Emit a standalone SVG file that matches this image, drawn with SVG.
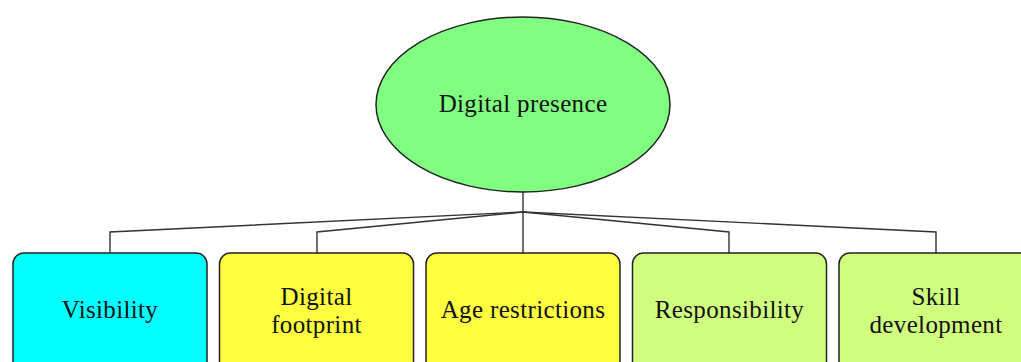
<svg xmlns="http://www.w3.org/2000/svg" width="1021" height="362" viewBox="0 0 1021 362">
<style>
.box{stroke:#222;stroke-width:1.5}
.t{font-family:"Liberation Serif",serif;font-size:25px;letter-spacing:0.35px;fill:#111;text-anchor:middle}
.c{fill:none;stroke:#333;stroke-width:1.4}
</style>
<rect width="1021" height="362" fill="#fff"/>
<g id="connectors">
<polyline class="c" points="523,192 523,212"/>
<polyline class="c" points="523,212 110,232 110,253"/>
<polyline class="c" points="523,212 317,232 317,253"/>
<polyline class="c" points="523,212 523,253"/>
<polyline class="c" points="523,212 729,232 729,253"/>
<polyline class="c" points="523,212 936,232 936,253"/>
</g>
<g id="root">
<ellipse cx="523" cy="104.5" rx="147" ry="87.5" fill="#80FF80" stroke="#222" stroke-width="1.5"/>
<text class="t" x="523" y="112">Digital presence</text>
</g>
<g id="visibility">
<rect class="box" x="13" y="253" width="194" height="125" rx="11" fill="#00FFFF"/>
<text class="t" x="110" y="318">Visibility</text>
</g>
<g id="footprint">
<rect class="box" x="219.5" y="253" width="194" height="125" rx="11" fill="#FFFF40"/>
<text class="t" x="316.5" y="305">Digital</text>
<text class="t" x="316.5" y="333">footprint</text>
</g>
<g id="age">
<rect class="box" x="426" y="253" width="194" height="125" rx="11" fill="#FFFF40"/>
<text class="t" x="523" y="318">Age restrictions</text>
</g>
<g id="responsibility">
<rect class="box" x="632.5" y="253" width="194" height="125" rx="11" fill="#D0FF80"/>
<text class="t" x="729.5" y="318">Responsibility</text>
</g>
<g id="skill">
<rect class="box" x="839" y="253" width="194" height="125" rx="11" fill="#D0FF80"/>
<text class="t" x="936" y="305">Skill</text>
<text class="t" x="936" y="333">development</text>
</g>
</svg>
